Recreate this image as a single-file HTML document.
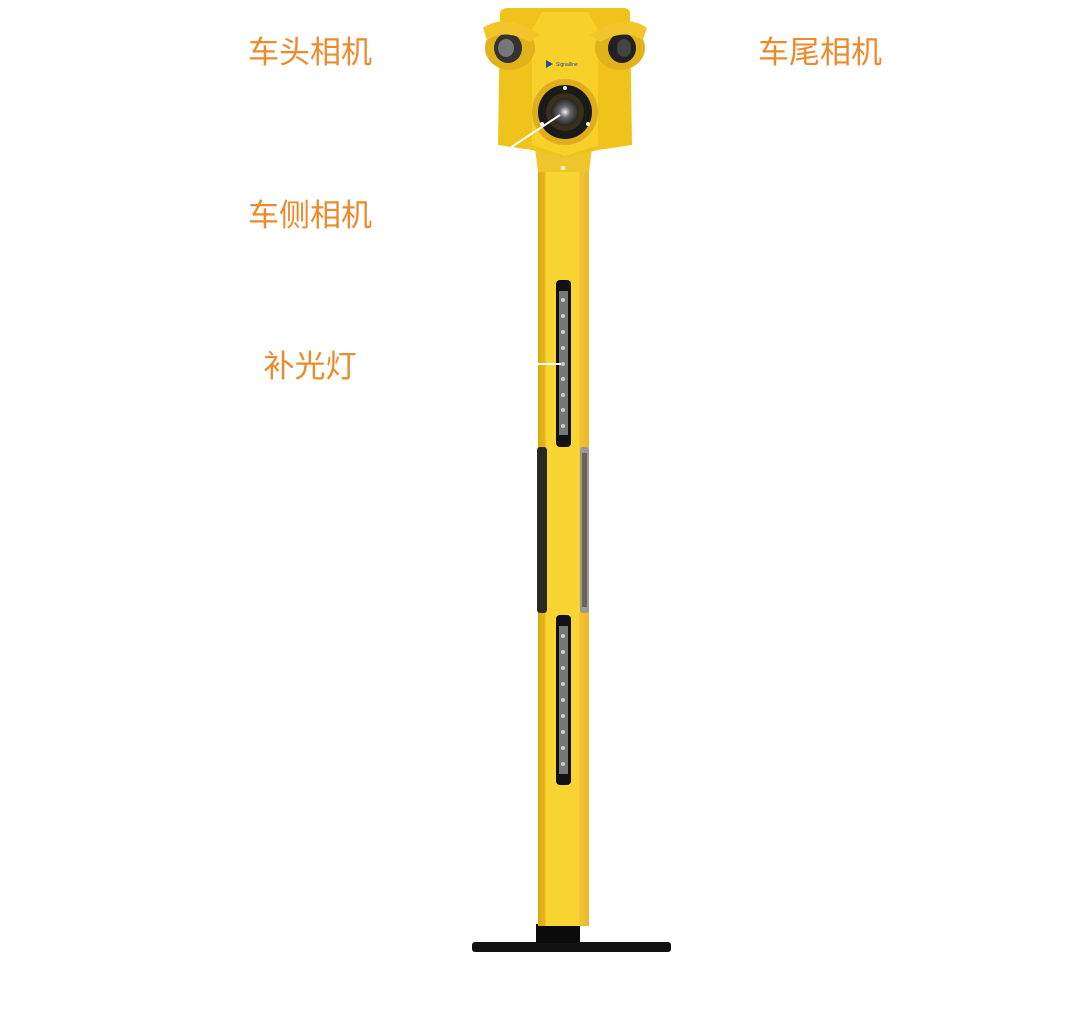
<!DOCTYPE html>
<html><head><meta charset="utf-8"><style>
body{margin:0;background:#fff;width:1079px;height:1032px;overflow:hidden;position:relative}
.l{position:absolute;color:#ec8a2c;font-family:"Liberation Sans","Noto Sans CJK SC",sans-serif;font-size:31px;transform:translateX(-50%);white-space:nowrap;line-height:1}
</style></head><body>
<div class="l" style="left:310px;top:37px">车头相机</div>
<div class="l" style="left:820px;top:37px">车尾相机</div>
<div class="l" style="left:310px;top:200px">车侧相机</div>
<div class="l" style="left:310px;top:351px">补光灯</div>
<svg width="1079" height="1032" style="position:absolute;left:0;top:0">
<defs>
<linearGradient id="p" x1="0" x2="1"><stop offset="0" stop-color="#d9a80f"/><stop offset="0.14" stop-color="#e8b918"/><stop offset="0.16" stop-color="#f9d534"/><stop offset="0.8" stop-color="#f9d534"/><stop offset="0.82" stop-color="#f2c236"/><stop offset="1" stop-color="#eab82e"/></linearGradient>
<radialGradient id="lens"><stop offset="0" stop-color="#eee"/><stop offset="0.4" stop-color="#666"/><stop offset="1" stop-color="#222"/></radialGradient>
</defs>
<rect x="472" y="942" width="199" height="10" rx="3" fill="#111"/>
<rect x="536" y="924" width="44" height="19" fill="#0b0b0b"/>
<rect x="538" y="160" width="51" height="766" fill="url(#p)"/>
<polygon points="535,148 592,148 589,172 538,172" fill="#eec52c"/>
<circle cx="563" cy="168" r="2" fill="#fff"/>
<rect x="556" y="280" width="15" height="167" rx="4" fill="#111"/>
<rect x="559" y="291" width="9" height="144" fill="#777"/>
<rect x="556" y="615" width="15" height="170" rx="4" fill="#111"/>
<rect x="559" y="626" width="9" height="148" fill="#777"/>
<rect x="537" y="447" width="10" height="166" rx="3" fill="#2a2a22"/>
<rect x="580" y="447" width="9" height="166" rx="3" fill="#999"/>
<rect x="582" y="453" width="5" height="154" fill="#6a6450"/>
<g fill="#ccc"><circle cx="563" cy="300" r="2"/><circle cx="563" cy="316" r="2"/><circle cx="563" cy="332" r="2"/><circle cx="563" cy="348" r="2"/><circle cx="563" cy="364" r="2"/><circle cx="563" cy="379" r="2"/><circle cx="563" cy="395" r="2"/><circle cx="563" cy="410" r="2"/><circle cx="563" cy="426" r="2"/>
<circle cx="563" cy="636" r="2"/><circle cx="563" cy="652" r="2"/><circle cx="563" cy="668" r="2"/><circle cx="563" cy="684" r="2"/><circle cx="563" cy="700" r="2"/><circle cx="563" cy="716" r="2"/><circle cx="563" cy="732" r="2"/><circle cx="563" cy="748" r="2"/><circle cx="563" cy="764" r="2"/></g>
<path d="M500,14 Q500,8 508,8 L624,8 Q630,8 630,14 L632,145 L598,150 L565,158 L532,150 L498,145 Z" fill="#f0c21c"/>
<path d="M542,12 L588,12 L598,30 L598,145 L565,156 L532,145 L532,30 Z" fill="#f7d02a"/>
<ellipse cx="510" cy="48" rx="25" ry="22" fill="#e2b21a"/>
<ellipse cx="508" cy="48" rx="14" ry="15" fill="#333"/>
<ellipse cx="506" cy="48" rx="8" ry="9" fill="#777"/>
<ellipse cx="620" cy="48" rx="25" ry="22" fill="#e2b21a"/>
<ellipse cx="622" cy="48" rx="14" ry="15" fill="#222"/>
<ellipse cx="624" cy="48" rx="7" ry="9" fill="#444"/>
<path d="M483,28 Q505,12 540,35 L530,42 Q505,28 487,40 Z" fill="#f2c62a"/>
<path d="M647,28 Q625,12 590,35 L600,42 Q625,28 643,40 Z" fill="#f2c62a"/>
<polygon points="546,60 553,64 546,68" fill="#1c4fa0"/>
<text x="556" y="66" font-size="5" fill="#1c4fa0" font-family="Liberation Sans">Signalline</text>
<circle cx="565" cy="112" r="33" fill="#e0ae1c"/>
<circle cx="565" cy="112" r="27" fill="#1a1a1a"/>
<circle cx="565" cy="112" r="19" fill="#3a3018"/>
<circle cx="565" cy="112" r="14" fill="url(#lens)"/>
<g fill="#fff"><circle cx="565" cy="88" r="2"/><circle cx="542" cy="124" r="2"/><circle cx="588" cy="124" r="2"/></g>
<line x1="507" y1="150" x2="560" y2="115" stroke="#fff" stroke-width="2"/>
<line x1="538" y1="364" x2="561" y2="364" stroke="#fff" stroke-width="2"/>
</svg>
</body></html>
